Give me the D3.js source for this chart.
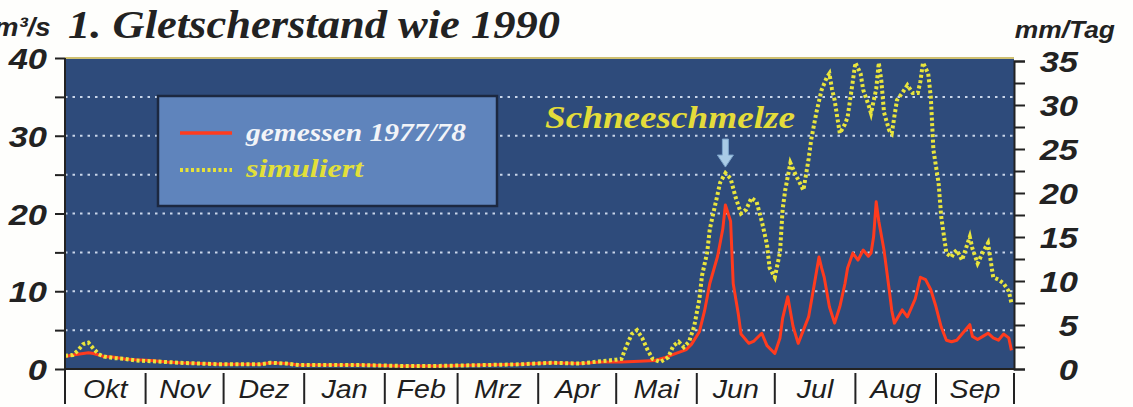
<!DOCTYPE html>
<html>
<head>
<meta charset="utf-8">
<script src="https://cdn.jsdelivr.net/npm/d3@7"></script>
<style>
  body { margin: 0; background: #fefefc; }
  svg { display: block; }
</style>
</head>
<body>
<div id="chart"></div>
<script>
// days counted from 1 Oct 1977 (hydrological year 1977/78)
var measDays = [0,3,5,7,9,11,13,15,19,23,27,33,39,44,52,60,67,75,79,85,90,102,114,129,144,160,175,187,198,206,214,221,227,231,235,239,241,244,246,248,251,253,254,256,257,259,260,263,265,268,270,273,275,276,278,280,282,284,286,288,290,291,292,294,296,298,300,301,303,305,307,309,310,311,312,313,315,317,318,319,322,324,327,329,331,333,335,337,339,341,343,345,348,349,351,353,355,357,359,361,363,364];
var measValues = [1.6,1.8,1.9,2.0,2.1,2.0,1.8,1.6,1.5,1.3,1.2,1.1,0.9,0.8,0.7,0.6,0.6,0.6,0.8,0.7,0.5,0.5,0.5,0.4,0.4,0.5,0.6,0.8,0.7,0.9,0.9,1.0,1.1,1.5,2.0,2.5,3.2,4.8,7.5,11,14.5,18,21.1,19,11,7,4.5,3.3,3.6,4.6,3.0,2.0,4,6.5,9.3,5.5,3.3,5,6.7,10.5,14.4,13,11.8,8,5.9,8,11,13,14.9,14,15.3,14.5,14.9,17,21.5,19,15.3,10.2,7.5,5.9,7.6,6.7,9,11.8,11.5,10.2,8,5.4,3.7,3.5,3.7,4.5,5.7,4.2,3.8,4.2,4.6,4.0,3.7,4.5,4.0,2.4];

var simDays = [0,3,5,7,9,11,13,15,19,23,27,33,39,44,52,60,67,75,79,85,90,102,114,129,144,160,175,187,198,206,212,214,216,218,220,222,224,226,229,232,234,236,238,240,242,244,245,247,248,250,252,254,256,258,260,262,264,266,268,270,271,273,275,276,277,279,281,284,286,287,289,291,293,294,295,296,298,300,301,303,304,306,307,309,310,312,313,314,315,317,318,319,320,322,324,326,328,329,330,332,333,334,336,337,339,341,342,343,345,348,349,351,353,355,356,357,359,361,363,364];
var simValues = [1.7,1.8,2.4,3.2,3.4,2.6,1.9,1.6,1.4,1.3,1.1,1.0,0.9,0.8,0.7,0.6,0.6,0.6,0.8,0.7,0.5,0.5,0.5,0.4,0.4,0.5,0.6,0.8,0.7,1.0,1.2,1.3,3.0,4.5,5.0,4.0,2.5,1.3,0.9,1.5,3.0,3.5,2.8,3.5,5.5,9,12,15,18,21,24,25.2,24.5,22,20,20.5,22,21.5,19,16,13,11.8,15,20.5,23,26.5,25,23,27,29.5,33,35.9,37.5,38,36,34.6,30.3,31.5,32.4,37,39.4,38,35.9,34,32.9,36,39.4,37,33,30.7,30.3,32.5,34.6,35.5,36.5,35.5,35.5,37,39.4,38,35,28.2,23.9,19.6,14.9,14.4,15,15.3,14,17,15.5,13.6,15,16.2,14,11.8,11.5,11,10,8.5];

var monthNames = ["Okt","Nov","Dez","Jan","Feb","Mrz","Apr","Mai","Jun","Jul","Aug","Sep"];
var leftTicks = [0,10,20,30,40];
var rightTicks = [0,5,10,15,20,25,30,35];

var width = 1133, height = 407;
var plotLeft = 65, plotRight = 1014, plotTop = 58, plotBottom = 369;

var svg = d3.select("#chart").append("svg")
    .attr("width", width)
    .attr("height", height);

var start = new Date(1977, 9, 1), end = new Date(1978, 9, 1);
var x = d3.scaleTime().domain([start, end]).range([plotLeft, plotRight]);
var y = d3.scaleLinear().domain([0, 40]).range([plotBottom, plotTop]);
var yR = d3.scaleLinear().domain([0, 35]).range([plotBottom, 61]);

function day(d) { return d3.timeDay.offset(start, d); }

var meas = measDays.map(function(d, i) { return {date: day(d), v: measValues[i]}; });
var sim = simDays.map(function(d, i) { return {date: day(d), v: simValues[i]}; });

// plot background
svg.append("rect")
    .attr("x", plotLeft).attr("y", plotTop)
    .attr("width", plotRight - plotLeft).attr("height", plotBottom - plotTop)
    .attr("fill", "#2e4b7b");

// dotted grid
svg.append("g").selectAll("line")
    .data(d3.range(5, 40, 5))
    .enter().append("line")
    .attr("x1", plotLeft).attr("x2", plotRight)
    .attr("y1", function(d) { return y(d); })
    .attr("y2", function(d) { return y(d); })
    .attr("stroke", "#c9d6ea")
    .attr("stroke-width", 2)
    .attr("stroke-dasharray", "2.5,5");

// top border
svg.append("line")
    .attr("x1", plotLeft).attr("x2", plotRight).attr("y1", plotTop).attr("y2", plotTop)
    .attr("stroke", "#cfc070").attr("stroke-width", 2);

// legend
var lg = svg.append("g");
lg.append("rect")
    .attr("x", 158).attr("y", 96).attr("width", 339).attr("height", 110)
    .attr("fill", "#5f84bc").attr("stroke", "#1c2840").attr("stroke-width", 2.5);
lg.append("line")
    .attr("x1", 180).attr("x2", 232).attr("y1", 133).attr("y2", 133)
    .attr("stroke", "#ff3b1e").attr("stroke-width", 3.5);
lg.append("line")
    .attr("x1", 180).attr("x2", 232).attr("y1", 170).attr("y2", 170)
    .attr("stroke", "#e6e23a").attr("stroke-width", 4).attr("stroke-dasharray", "3,2.5");
lg.append("text")
    .attr("x", 246).attr("y", 141)
    .attr("textLength", 220).attr("lengthAdjust", "spacingAndGlyphs")
    .style("font", "italic bold 26px 'Liberation Serif', serif")
    .attr("fill", "#f2f4f8")
    .text("gemessen 1977/78");
lg.append("text")
    .attr("x", 246).attr("y", 177)
    .attr("textLength", 117).attr("lengthAdjust", "spacingAndGlyphs")
    .style("font", "italic bold 26px 'Liberation Serif', serif")
    .attr("fill", "#e2e03a")
    .text("simuliert");

// series
var line = d3.line()
    .x(function(d) { return x(d.date); })
    .y(function(d) { return y(d.v); });

svg.append("path")
    .datum(meas)
    .attr("d", line)
    .attr("fill", "none")
    .attr("stroke", "#ff3b1e")
    .attr("stroke-width", 3)
    .attr("stroke-linejoin", "round");

svg.append("path")
    .datum(sim)
    .attr("d", line)
    .attr("fill", "none")
    .attr("stroke", "#e9e53c")
    .attr("stroke-width", 4)
    .attr("stroke-dasharray", "3,2.5");

// annotation
svg.append("text")
    .attr("x", 545).attr("y", 128)
    .attr("textLength", 250).attr("lengthAdjust", "spacingAndGlyphs")
    .style("font", "italic bold 32px 'Liberation Serif', serif")
    .attr("fill", "#e4dc3a")
    .text("Schneeschmelze");

var ax = x(day(254)), ay = y(25.2) - 6;
svg.append("path")
    .attr("d", "M" + (ax - 3) + "," + (ay - 28) + "h6v16h5l-8,12l-8,-12h5z")
    .attr("fill", "#a9cbe6")
    .attr("stroke", "#7ea6cc")
    .attr("stroke-width", 1);

// left axis
var yAxis = svg.append("g")
    .attr("transform", "translate(" + plotLeft + ",0)")
    .call(d3.axisLeft(y).tickValues(d3.range(0, 45, 5)).tickSize(10).tickFormat(""));
yAxis.select(".domain").remove();
yAxis.selectAll("line").attr("stroke", "#222").attr("stroke-width", 2);
svg.append("line")
    .attr("x1", plotLeft).attr("x2", plotLeft).attr("y1", plotTop).attr("y2", 404)
    .attr("stroke", "#222").attr("stroke-width", 2);

svg.append("g").selectAll("text")
    .data(leftTicks)
    .enter().append("text")
    .attr("transform", function(d) { return "translate(47," + (y(d) + 11) + ") scale(1.15,1)"; })
    .attr("text-anchor", "end")
    .style("font", "italic bold 30px 'Liberation Sans', Arial, sans-serif")
    .attr("fill", "#222")
    .text(function(d) { return d; });

svg.append("text")
    .attr("transform", "translate(-6,36) scale(1.1,1)")
    .style("font", "italic bold 25px 'Liberation Sans', Arial, sans-serif")
    .attr("fill", "#222")
    .text("m³/s");

// right axis
var yAxisR = svg.append("g")
    .attr("transform", "translate(" + plotRight + ",0)")
    .call(d3.axisRight(yR).tickValues(d3.range(0, 37.5, 2.5)).tickSize(11).tickFormat(""));
yAxisR.select(".domain").attr("stroke", "#222").attr("stroke-width", 2);
yAxisR.selectAll("line").attr("stroke", "#222").attr("stroke-width", 2);

svg.append("g").selectAll("text")
    .data(rightTicks)
    .enter().append("text")
    .attr("transform", function(d) { return "translate(1078," + (yR(d) + 11) + ") scale(1.15,1)"; })
    .attr("text-anchor", "end")
    .style("font", "italic bold 30px 'Liberation Sans', Arial, sans-serif")
    .attr("fill", "#222")
    .text(function(d) { return d; });

svg.append("text")
    .attr("transform", "translate(1115,38) scale(1.1,1)")
    .attr("text-anchor", "end")
    .style("font", "italic bold 24px 'Liberation Sans', Arial, sans-serif")
    .attr("fill", "#222")
    .text("mm/Tag");

// bottom border
svg.append("line")
    .attr("x1", plotLeft).attr("x2", plotRight).attr("y1", plotBottom).attr("y2", plotBottom)
    .attr("stroke", "#222").attr("stroke-width", 2);

// month dividers and labels
var months = d3.timeMonth.range(start, d3.timeDay.offset(end, 1));
svg.append("g").selectAll("line")
    .data(months)
    .enter().append("line")
    .attr("x1", function(d) { return x(d); })
    .attr("x2", function(d) { return x(d); })
    .attr("y1", 373).attr("y2", 404)
    .attr("stroke", "#222").attr("stroke-width", 2);

svg.append("g").selectAll("text")
    .data(months.slice(0, 12))
    .enter().append("text")
    .attr("transform", function(d) {
        var mid = (x(d) + x(d3.timeMonth.offset(d, 1))) / 2;
        return "translate(" + mid + ",398) scale(1.1,1)";
    })
    .attr("text-anchor", "middle")
    .style("font", "italic 26px 'Liberation Sans', Arial, sans-serif")
    .attr("fill", "#1e1e1e")
    .text(function(d, i) { return monthNames[i]; });

// title
svg.append("text")
    .attr("x", 68).attr("y", 38)
    .attr("textLength", 492).attr("lengthAdjust", "spacingAndGlyphs")
    .style("font", "italic bold 40px 'Liberation Serif', serif")
    .attr("fill", "#222")
    .text("1. Gletscherstand wie 1990");
</script>
</body>
</html>
